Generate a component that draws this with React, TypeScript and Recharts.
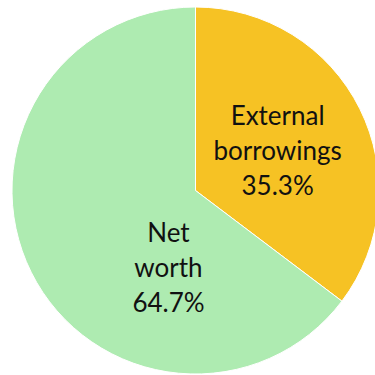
import React from 'react';
import { PieChart, Pie, Cell } from 'recharts';

const NAMES = ['External borrowings', 'Net worth'];
const SHARES = [35.3, 64.7];
const COLORS = ['#F6C224', '#AEEBB1'];
// label line splits per slice
const LABEL_LINES = [['External', 'borrowings'], ['Net', 'worth']];
// label placement tweaks (fraction of radius, angle shift in degrees)
const LABEL_RADIUS = [0.5, 0.44];
const LABEL_SHIFT = [0, 44];

const data = NAMES.map((name, i) => ({ name, value: SHARES[i] }));

const RADIAN = Math.PI / 180;

const renderLabel = (props: any) => {
  const { cx, cy, midAngle, outerRadius, index, value } = props;
  const angle = (midAngle + LABEL_SHIFT[index]) * RADIAN;
  const r = outerRadius * LABEL_RADIUS[index];
  const x = cx + r * Math.cos(angle);
  const y = cy - r * Math.sin(angle);
  const lines = [...LABEL_LINES[index], `${value.toFixed(1)}%`];
  const lh = 35;
  const startY = y - ((lines.length - 1) * lh) / 2;
  return (
    <text
      x={x}
      y={startY}
      textAnchor="middle"
      dominantBaseline="central"
      fill="#111"
      fontSize={26}
      fontFamily="Lato, 'Open Sans', sans-serif"
    >
      {lines.map((l, i) => (
        <tspan key={i} x={x} y={startY + i * lh}>
          {l}
        </tspan>
      ))}
    </text>
  );
};

export default function App() {
  return (
    <div style={{ position: 'absolute', left: 0, top: 0, width: 375, height: 375, background: '#fff' }}>
      <PieChart width={375} height={375} margin={{ top: 0, right: 0, bottom: 0, left: 0 }}>
        <Pie
          data={data}
          dataKey="value"
          cx={195.5}
          cy={190.5}
          outerRadius={183.5}
          startAngle={90}
          endAngle={-270}
          stroke="#fff"
          strokeWidth={1}
          label={renderLabel}
          labelLine={false}
          isAnimationActive={false}
        >
          {data.map((d, i) => (
            <Cell key={d.name} fill={COLORS[i]} />
          ))}
        </Pie>
      </PieChart>
    </div>
  );
}
